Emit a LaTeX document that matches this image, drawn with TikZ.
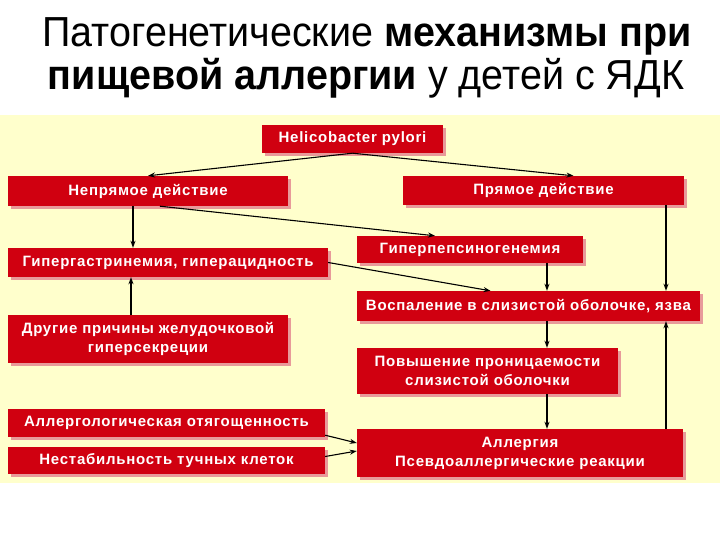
\documentclass[tikz,border=0pt]{standalone}
\usepackage{fontspec}
\setmainfont{Liberation Sans}
\newfontfamily\titlefont[FakeStretch=0.94]{Liberation Sans}
\newfontfamily\boxfont[LetterSpace=5]{Liberation Sans}
\usetikzlibrary{shadows,arrows.meta}
\definecolor{boxred}{HTML}{D00010}
\definecolor{shadowpink}{HTML}{E89A9A}
\definecolor{panel}{HTML}{FFFFCC}
\tikzset{
  rbox/.style={fill=boxred, text=white, inner sep=0pt, align=center,
    font=\boxfont\bfseries\fontsize{15}{19}\selectfont,
    drop shadow={fill=shadowpink, opacity=1, shadow xshift=3pt, shadow yshift=-3pt}},
  conn/.style={draw=black, line width=1.1pt, -{Stealth[length=7pt,width=5pt]}},
  ttl/.style={font=\titlefont\fontsize{42}{46}\selectfont, anchor=base, inner sep=0pt},
}
\begin{document}
\begin{tikzpicture}[x=1pt,y=-1pt]
\useasboundingbox (0,0) rectangle (720,540);
\fill[white] (0,0) rectangle (720,540);
\fill[panel] (0,115) rectangle (720,483);
\node[ttl] (t1) at (367,47) {Патогенетические \textbf{механизмы при}};
\node[ttl] (t2) at (366,90) {\textbf{пищевой аллергии} у детей с ЯДК};

\node[rbox, minimum width=181pt, minimum height=28pt] (heli) at (352.5,139) {Helicobacter pylori};
\node[rbox, minimum width=280pt, minimum height=30pt] (indir) at (148,191) {Непрямое действие};
\node[rbox, minimum width=281pt, minimum height=29pt] (dir) at (543.5,190.5) {Прямое действие};
\node[rbox, minimum width=320pt, minimum height=29pt] (hyperg) at (168,262.5) {Гипергастринемия, гиперацидность};
\node[rbox, minimum width=226pt, minimum height=27pt] (hyperp) at (470,249.5) {Гиперпепсиногенемия};
\node[rbox, minimum width=343pt, minimum height=30pt] (infl) at (528.5,306) {Воспаление в слизистой оболочке, язва};
\node[rbox, minimum width=280pt, minimum height=48pt] (other) at (148,339) {Другие причины желудочковой\\гиперсекреции};
\node[rbox, minimum width=261pt, minimum height=46pt] (perm) at (487.5,371) {Повышение проницаемости\\слизистой оболочки};
\node[rbox, minimum width=317pt, minimum height=28pt] (allh) at (166.5,423) {Аллергологическая отягощенность};
\node[rbox, minimum width=317pt, minimum height=27pt] (mast) at (166.5,460.5) {Нестабильность тучных клеток};
\node[rbox, minimum width=326pt, minimum height=48pt] (allergy) at (520,453) {Аллергия\\Псевдоаллергические реакции};

\coordinate (cx) at (547,0);
\coordinate (rx) at (666,0);
\coordinate (lx) at (131,0);
\coordinate (ix) at (133,0);

\draw[conn] (heli.south) -- (indir.north);
\draw[conn] (heli.south) -- ([xshift=30pt]dir.north);
\draw[conn] (indir.south -| ix) -- (hyperg.north -| ix);
\draw[conn] ([xshift=12pt]indir.south) -- ([xshift=-35pt]hyperp.north);
\draw[conn] (hyperg.east) -- ([xshift=-38pt]infl.north);
\draw[conn] (dir.south -| rx) -- (infl.north -| rx);
\draw[conn] (hyperp.south -| cx) -- (infl.north -| cx);
\draw[conn] (infl.south -| cx) -- (perm.north -| cx);
\draw[conn] (perm.south -| cx) -- (allergy.north -| cx);
\draw[conn] (allergy.north -| rx) -- (infl.south -| rx);
\draw[conn] (other.north -| lx) -- (hyperg.south -| lx);
\draw[conn] ([yshift=2pt]allh.south east) -- ([yshift=10pt]allergy.west);
\draw[conn] ([yshift=4pt]mast.east) -- ([yshift=2pt]allergy.west);
\end{tikzpicture}
\end{document}
